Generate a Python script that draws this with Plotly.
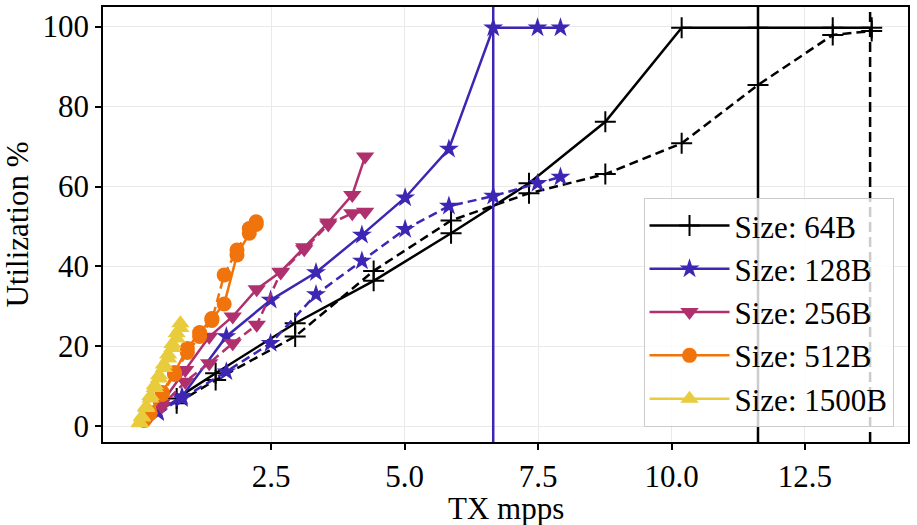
import plotly.graph_objects as go

# ---- data ----
x64 = [0.73, 1.46, 2.95, 4.42, 5.87, 7.33, 8.76, 10.19, 11.62, 13.02, 13.75]
y64_solid = [7.0, 13.3, 25.8, 36.4, 48.3, 60.8, 76.2, 99.7, 99.7, 99.7, 99.7]
y64_dash = [5.8, 11.6, 22.5, 38.9, 51.5, 58.3, 63.1, 70.8, 85.4, 97.9, 98.9]

x128 = [0.38, 0.83, 1.66, 2.49, 3.34, 4.20, 5.01, 5.83, 6.66, 7.49, 7.92]
y128_solid = [3.7, 7.5, 22.5, 31.6, 38.5, 47.9, 57.2, 69.4, 99.7, 99.7, 99.7]
y128_dash = [3.5, 7.0, 13.7, 20.8, 33.0, 41.4, 49.3, 55.1, 57.6, 60.8, 62.4]

x256 = [0.22, 0.45, 0.89, 1.34, 1.78, 2.23, 2.68, 3.12, 3.57, 4.02, 4.26]
y256_solid = [2.5, 5.8, 14.1, 22.4, 27.5, 34.3, 38.7, 44.8, 51.0, 57.9, 67.5]
y256_dash = [2.3, 5.0, 11.2, 15.8, 20.8, 25.4, 38.5, 44.3, 50.5, 53.3, 53.7]

x512 = [0.12, 0.23, 0.46, 0.69, 0.93, 1.16, 1.39, 1.62, 1.86, 2.09, 2.22]
y512_solid = [1.8, 3.5, 8.5, 13.5, 19.5, 23.5, 27.0, 30.6, 42.9, 48.3, 51.2]
y512_dash = [1.5, 3.2, 8.0, 13.0, 18.5, 22.5, 26.5, 37.9, 44.1, 49.5, 50.5]

x1500 = [0.04, 0.08, 0.16, 0.24, 0.32, 0.40, 0.49, 0.57, 0.65, 0.73, 0.80]
y1500_solid = [1.0, 2.5, 5.0, 7.6, 10.3, 12.8, 15.5, 18.0, 20.6, 23.3, 25.8]
y1500_dash = [0.8, 2.2, 4.6, 7.0, 9.6, 12.0, 14.6, 17.0, 19.6, 22.0, 24.6]

labels = ["Size: 64B", "Size: 128B", "Size: 256B", "Size: 512B", "Size: 1500B"]
colors = ["#000000", "#3d26b4", "#b0306e", "#f0730c", "#e8cc3c"]
symbols = ["cross-thin", "star", "triangle-down", "circle", "triangle-up"]
msizes = [15, 15, 16, 15, 16]

vline_x = [6.66, 11.62, 13.72]
vline_color = ["#3d26b4", "#000000", "#000000"]
vline_dash = ["solid", "solid", "dash"]

xtick_vals = [2.5, 5.0, 7.5, 10.0, 12.5]
xtick_text = ["2.5", "5.0", "7.5", "10.0", "12.5"]
ytick_vals = [0, 20, 40, 60, 80, 100]

x_title = "TX mpps"
y_title = "Utilization %"

series = [
    (x64, y64_solid, y64_dash),
    (x128, y128_solid, y128_dash),
    (x256, y256_solid, y256_dash),
    (x512, y512_solid, y512_dash),
    (x1500, y1500_solid, y1500_dash),
]

FONT = "Liberation Serif"
fig = go.Figure()

for i, (xs, ys, yd) in enumerate(series):
    c = colors[i]
    mk = dict(symbol=symbols[i], size=msizes[i], color=c,
              line=dict(color=c, width=2 if symbols[i] == "cross-thin" else 0))
    fig.add_trace(go.Scatter(x=xs, y=ys, mode="lines+markers", name=labels[i],
                             line=dict(color=c, width=2.5), marker=mk,
                             legendgroup=labels[i]))
    fig.add_trace(go.Scatter(x=xs, y=yd, mode="lines+markers", name=labels[i],
                             line=dict(color=c, width=2.5, dash="9px,5px"), marker=mk,
                             showlegend=False, legendgroup=labels[i]))

for xv, cv, dv in zip(vline_x, vline_color, vline_dash):
    fig.add_shape(type="line", xref="x", yref="paper", x0=xv, x1=xv, y0=0, y1=1,
                  line=dict(color=cv, width=2.5, dash="10px,5px" if dv == "dash" else "solid"),
                  layer="above")

axis_common = dict(
    showline=True, linecolor="black", linewidth=1.5, mirror=True,
    ticks="outside", ticklen=6, tickwidth=1.5, tickcolor="black",
    showgrid=True, gridcolor="#e9e9e9", gridwidth=1, zeroline=False,
    tickfont=dict(family=FONT, size=31, color="black"), automargin=False,
)

fig.update_layout(
    width=917, height=525,
    margin=dict(l=103, r=9, t=7, b=83),
    plot_bgcolor="white", paper_bgcolor="white",
    font=dict(family=FONT, size=31, color="black"),
    xaxis=dict(range=[-0.65, 14.43], tickvals=xtick_vals, ticktext=xtick_text,
               **axis_common),
    yaxis=dict(range=[-3.9, 104.9], tickvals=ytick_vals,
               title=dict(text=y_title, font=dict(family=FONT, size=31), standoff=10),
               **axis_common),
    legend=dict(x=0.982, y=0.035, xanchor="right", yanchor="bottom",
                bgcolor="rgba(255,255,255,0.8)", bordercolor="#cccccc", borderwidth=1,
                font=dict(family=FONT, size=31, color="black"), tracegroupgap=0,
                itemwidth=80),
    showlegend=True,
)

fig.add_annotation(text=x_title, xref="paper", yref="paper", x=0.5, y=-0.153,
                   xanchor="center", yanchor="middle", showarrow=False,
                   font=dict(family=FONT, size=31, color="black"))

fig.write_html("out.html")
